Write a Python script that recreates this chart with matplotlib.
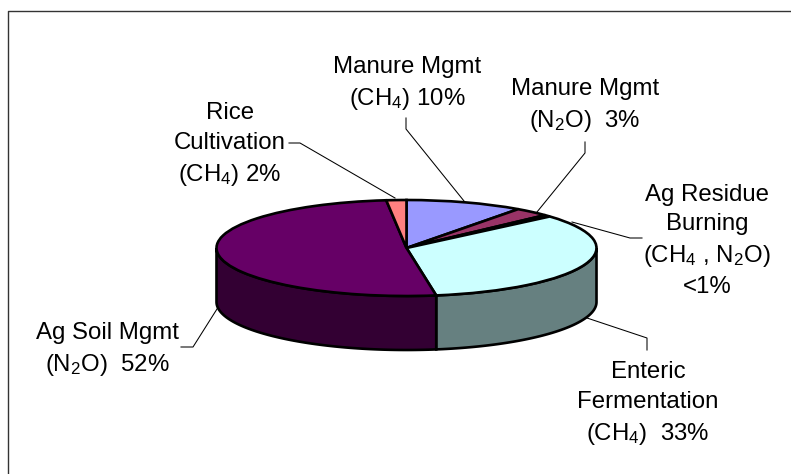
# import modules
import matplotlib
matplotlib.use("Agg")
import matplotlib.pyplot as plt
import numpy as np

plt.rcParams["font.family"] = ["Liberation Sans", "DejaVu Sans"]
plt.rcParams["mathtext.fontset"] = "custom"
plt.rcParams["mathtext.rm"] = "Liberation Sans"
plt.rcParams["mathtext.default"] = "regular"

# slices clockwise from 12 o'clock, sizes
categories = ["Manure CH4", "Manure N2O", "Residue", "Enteric", "Ag Soil", "Rice"]
values = [10, 3, 0.6, 33.9, 50.8, 1.7]
top_colors = ["#9999FF", "#993366", "#FFFFCC", "#CCFFFF", "#660066", "#FF8080"]
wall_colors = ["#4C4C80", "#4C1933", "#808066", "#668080", "#330033", "#804040"]

labels = [
    "Manure Mgmt\n(CH$_4$) 10%",
    "Manure Mgmt\n(N$_2$O)  3%",
    "Ag Residue\nBurning\n(CH$_4$ , N$_2$O)\n<1%",
    "Enteric\nFermentation\n(CH$_4$)  33%",
    "Ag Soil Mgmt\n(N$_2$O)  52%",
    "Rice\nCultivation\n(CH$_4$) 2%",
]
label_pos = [(407, 84), (585, 106), (707, 241), (648, 404), (107, 350), (230, 145)]
leaders = [
    [(406, 118), (406, 129), (464, 201)],
    [(585, 142), (585, 153), (537, 212)],
    [(642, 238), (630, 238), (572, 222)],
    [(647, 350), (647, 338), (587, 318)],
    [(181, 347), (193, 347), (217, 309)],
    [(289, 143), (300, 143), (395, 198)],
]

W, H = 791, 474
cx, cy, rx, ry, depth = 406.5, 248, 190, 48, 54

fig = plt.figure(figsize=(W / 100, H / 100), dpi=100)
ax = fig.add_axes([0, 0, 1, 1])

# outer frame, only the top and left edges are inside the picture
fig.add_artist(plt.Line2D([7.5 / W, 7.5 / W, 1], [0, 1 - 10.5 / H, 1 - 10.5 / H],
                          color="#333333", linewidth=1, transform=fig.transFigure))

# top of the pie
ax.pie(values, colors=top_colors, startangle=90, counterclock=False, radius=1,
       wedgeprops={"edgecolor": "black", "linewidth": 1.9, "zorder": 3})

# pie() makes the axes square, undo that so the circle is squashed
ax.set_aspect("auto")
ax.set_xlim(-cx / rx, (W - cx) / rx)
ax.set_ylim((cy - H) / ry, cy / ry)
d = depth / ry

# side walls, only the front half shows
edges = 90 - 3.6 * np.cumsum([0] + values)
for i in range(len(values)):
    a1 = max(edges[i + 1], -180)
    a2 = min(edges[i], 0)
    if a2 <= a1:
        continue
    t = np.radians(np.linspace(a1, a2, 80))
    xs = np.cos(t)
    ys = np.sin(t)
    ax.fill(np.r_[xs, xs[::-1]], np.r_[ys, ys[::-1] - d], facecolor=wall_colors[i],
            edgecolor="black", linewidth=1.9, zorder=2)

# labels and leader lines
for text, (x, y) in zip(labels, label_pos):
    fig.text(x / W, 1 - y / H, text, ha="center", va="center", fontsize=17.3,
             linespacing=1.43, color="black")

for pts in leaders:
    xs = [p[0] / W for p in pts]
    ys = [1 - p[1] / H for p in pts]
    fig.add_artist(plt.Line2D(xs, ys, color="black", linewidth=0.75, transform=fig.transFigure))

plt.savefig("out.png", dpi=100)
